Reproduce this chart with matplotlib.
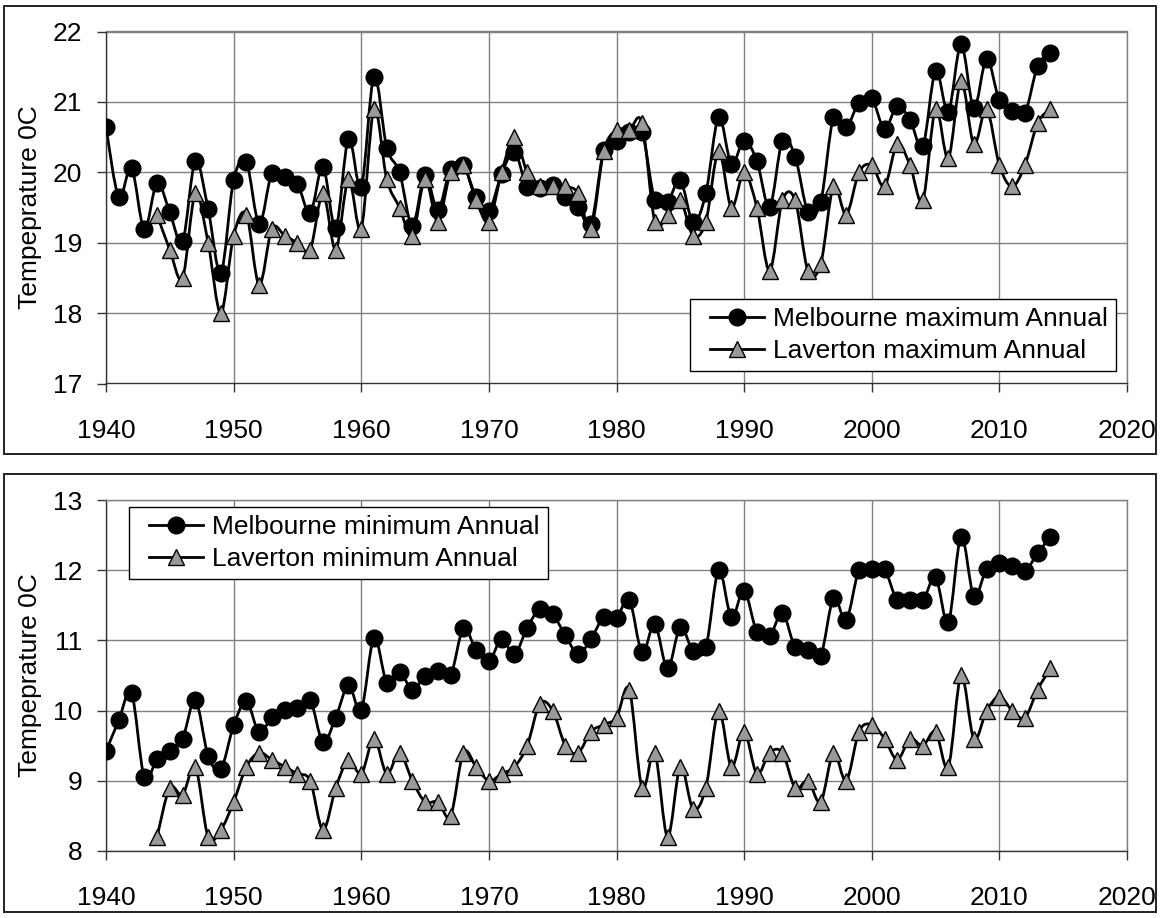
import numpy as np
import matplotlib
matplotlib.use("Agg")
import matplotlib.pyplot as plt
from matplotlib.path import Path
from matplotlib.patches import PathPatch, Rectangle
from matplotlib.lines import Line2D
from matplotlib.legend_handler import HandlerLine2D

plt.rcParams['font.family'] = ['Liberation Sans', 'DejaVu Sans']

# ---------------- data ----------------
mel_years = list(range(1940, 2015))
lav_years = list(range(1944, 2015))

mel_max = [20.64, 19.65, 20.06, 19.19, 19.85, 19.43, 19.02, 20.16, 19.48, 18.57,
           19.89, 20.14, 19.27, 19.99, 19.93, 19.84, 19.42, 20.08, 19.21, 20.48,
           19.79, 21.36, 20.35, 20.00, 19.24, 19.96, 19.47, 20.05, 20.10, 19.65,
           19.45, 19.98, 20.29, 19.79, 19.77, 19.82, 19.65, 19.51, 19.26, 20.31,
           20.45, 20.57, 20.57, 19.61, 19.58, 19.89, 19.29, 19.70, 20.78, 20.12,
           20.45, 20.16, 19.51, 20.45, 20.22, 19.44, 19.58, 20.78, 20.64, 20.99,
           21.05, 20.62, 20.94, 20.75, 20.37, 21.44, 20.86, 21.82, 20.91, 21.61,
           21.02, 20.87, 20.84, 21.51, 21.70]

lav_max = [19.4, 18.9, 18.5, 19.7, 19.0, 18.0,
           19.1, 19.4, 18.4, 19.2, 19.1, 19.0, 18.9, 19.7, 18.9, 19.9,
           19.2, 20.9, 19.9, 19.5, 19.1, 19.9, 19.3, 20.0, 20.1, 19.6,
           19.3, 20.0, 20.5, 20.0, 19.8, 19.8, 19.8, 19.7, 19.2, 20.3,
           20.6, 20.6, 20.7, 19.3, 19.4, 19.6, 19.1, 19.3, 20.3, 19.5,
           20.0, 19.5, 18.6, 19.6, 19.6, 18.6, 18.7, 19.8, 19.4, 20.0,
           20.1, 19.8, 20.4, 20.1, 19.6, 20.9, 20.2, 21.3, 20.4, 20.9,
           20.1, 19.8, 20.1, 20.7, 20.9]

mel_min = [9.42, 9.86, 10.25, 9.05, 9.31, 9.42, 9.60, 10.15, 9.36, 9.17,
           9.79, 10.13, 9.69, 9.91, 10.01, 10.03, 10.15, 9.55, 9.90, 10.36,
           10.01, 11.04, 10.40, 10.55, 10.30, 10.49, 10.56, 10.50, 11.17, 10.86,
           10.70, 11.02, 10.80, 11.18, 11.45, 11.37, 11.07, 10.80, 11.02, 11.33,
           11.32, 11.58, 10.83, 11.23, 10.60, 11.19, 10.85, 10.90, 12.00, 11.33,
           11.71, 11.12, 11.06, 11.39, 10.90, 10.87, 10.78, 11.60, 11.29, 12.00,
           12.02, 12.01, 11.57, 11.58, 11.57, 11.90, 11.26, 12.48, 11.63, 12.02,
           12.10, 12.06, 11.99, 12.24, 12.48]

lav_min = [8.2, 8.9, 8.8, 9.2, 8.2, 8.3,
           8.7, 9.2, 9.4, 9.3, 9.2, 9.1, 9.0, 8.3, 8.9, 9.3,
           9.1, 9.6, 9.1, 9.4, 9.0, 8.7, 8.7, 8.5, 9.4, 9.2,
           9.0, 9.1, 9.2, 9.5, 10.1, 10.0, 9.5, 9.4, 9.7, 9.8,
           9.9, 10.3, 8.9, 9.4, 8.2, 9.2, 8.6, 8.9, 10.0, 9.2,
           9.7, 9.1, 9.4, 9.4, 8.9, 9.0, 8.7, 9.4, 9.0, 9.7,
           9.8, 9.6, 9.3, 9.6, 9.5, 9.7, 9.2, 10.5, 9.6, 10.0,
           10.2, 10.0, 9.9, 10.3, 10.6]

x_ticks = [1940, 1950, 1960, 1970, 1980, 1990, 2000, 2010, 2020]
top_yticks = [17, 18, 19, 20, 21, 22]
bot_yticks = [8, 9, 10, 11, 12, 13]
labels_top = ["Melbourne maximum Annual", "Laverton maximum Annual"]
labels_bot = ["Melbourne minimum Annual", "Laverton minimum Annual"]
ylabel = "Tempeprature 0C"

# ---------------- style ----------------
FS = 19
GRID = '#808080'
TRI = '#999999'
LW = 2.0
MS = 12

W, H = 1160, 918
fig = plt.figure(figsize=(W / 100, H / 100), dpi=100)


def smooth_path(xs, ys):
    """Excel-like smoothed line as cubic Bezier segments through the data."""
    P = np.column_stack([np.asarray(xs, float), np.asarray(ys, float)])
    n = len(P)
    verts = [P[0]]
    codes = [Path.MOVETO]
    for i in range(n - 1):
        p0 = P[i - 1] if i > 0 else P[i]
        p1 = P[i]
        p2 = P[i + 1]
        p3 = P[i + 2] if i + 2 < n else P[i + 1]
        c1 = p1 + (p2 - p0) / 6.0
        c2 = p2 - (p3 - p1) / 6.0
        verts += [c1, c2, p2]
        codes += [Path.CURVE4] * 3
    return Path(verts, codes)


def px_rect(x0, y0, x1, y1):
    return [x0 / W, 1 - y1 / H, (x1 - x0) / W, (y1 - y0) / H]


def make_panel(rect, mel, lav, yticks, labels, legend_kw):
    ax = fig.add_axes(rect)
    ax.set_axisbelow(True)
    ax.add_patch(PathPatch(smooth_path(mel_years, mel), facecolor='none',
                           edgecolor='black', lw=LW, zorder=2))
    ax.plot(mel_years, mel, linestyle='none', marker='o', ms=MS,
            mfc='black', mec='black', mew=1, zorder=3)
    ax.add_patch(PathPatch(smooth_path(lav_years, lav), facecolor='none',
                           edgecolor='black', lw=LW, zorder=4))
    ax.plot(lav_years, lav, linestyle='none', marker='^', ms=MS,
            mfc=TRI, mec='black', mew=1, zorder=5)
    ax.set_xlim(x_ticks[0], x_ticks[-1])
    ax.set_ylim(yticks[0], yticks[-1])
    ax.set_xticks(x_ticks)
    ax.set_yticks(yticks)
    ax.grid(True, color=GRID, lw=1.0)
    for s in ['left', 'bottom']:
        ax.spines[s].set_color('#333333')
        ax.spines[s].set_linewidth(1.0)
    for s in ['top', 'right']:
        ax.spines[s].set_color(GRID)
        ax.spines[s].set_linewidth(1.0)
    ax.tick_params(axis='y', direction='out', length=6.5, width=1,
                   color='#333333', pad=10.5, labelsize=FS)
    ax.tick_params(axis='x', direction='out', length=6.5, width=1,
                   color='#333333', pad=19, labelsize=FS)
    ax.set_ylabel(ylabel, fontsize=FS)
    ax.yaxis.set_label_coords(-0.063, 0.5)
    handles = [
        Line2D([], [], color='black', lw=LW, marker='o', ms=MS,
               mfc='black', mec='black'),
        Line2D([], [], color='black', lw=LW, marker='^', ms=MS,
               mfc=TRI, mec='black', mew=1),
    ]
    hmap = {h: HandlerLine2D(xpad=0.45) for h in handles}
    leg = ax.legend(handles, labels, fontsize=FS, frameon=True, fancybox=False,
                    shadow=False, framealpha=1, edgecolor='black',
                    handlelength=2.5, handletextpad=0.35, borderpad=0.3,
                    labelspacing=0.3, borderaxespad=0, handler_map=hmap,
                    **legend_kw)
    leg.get_frame().set_linewidth(1.0)
    leg.set_zorder(10)
    return ax


# panel frames
for (x0, y0, x1, y1) in [(4, 6, 1156, 454), (4, 474, 1156, 912)]:
    r = px_rect(x0, y0, x1, y1)
    fig.patches.append(Rectangle((r[0], r[1]), r[2], r[3], transform=fig.transFigure,
                                 fill=False, edgecolor='#222222', lw=1.4))

make_panel(px_rect(106, 31.5, 1127, 383.5), mel_max, lav_max, top_yticks, labels_top,
           dict(loc='lower right', bbox_to_anchor=(0.989, 0.036)))
make_panel(px_rect(106, 500, 1127, 851), mel_min, lav_min, bot_yticks, labels_bot,
           dict(loc='upper left', bbox_to_anchor=(0.0225, 0.98)))

fig.savefig("out.png", dpi=100)
